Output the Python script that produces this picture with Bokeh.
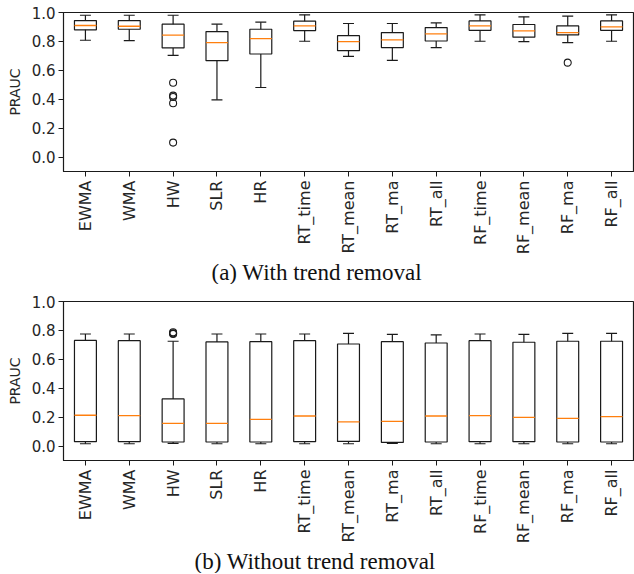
import numpy as np
from bokeh.plotting import figure
from bokeh.layouts import column
from bokeh.models import Range1d, FixedTicker, Title
from bokeh.embed import file_html
from bokeh.resources import INLINE

categories = ["EWMA", "WMA", "HW", "SLR", "HR", "RT_time", "RT_mean", "RT_ma",
              "RT_all", "RF_time", "RF_mean", "RF_ma", "RF_all"]

# (a) With trend removal
whislo_a = [0.808, 0.806, 0.704, 0.396, 0.481, 0.801, 0.697, 0.669, 0.757, 0.801, 0.799, 0.792, 0.801]
q1_a     = [0.880, 0.884, 0.755, 0.667, 0.713, 0.875, 0.736, 0.757, 0.803, 0.877, 0.829, 0.845, 0.877]
med_a    = [0.910, 0.905, 0.843, 0.792, 0.819, 0.907, 0.799, 0.810, 0.852, 0.907, 0.873, 0.861, 0.900]
q3_a     = [0.944, 0.944, 0.919, 0.868, 0.884, 0.940, 0.840, 0.861, 0.896, 0.942, 0.917, 0.907, 0.942]
whishi_a = [0.981, 0.981, 0.981, 0.919, 0.933, 0.984, 0.924, 0.924, 0.928, 0.984, 0.970, 0.975, 0.984]
outlier_cat_a = ["HW", "HW", "HW", "HW", "HW", "RF_ma"]
outlier_val_a = [0.514, 0.425, 0.415, 0.372, 0.100, 0.653]

# (b) Without trend removal
whislo_b = [0.016, 0.016, 0.019, 0.016, 0.016, 0.016, 0.016, 0.019, 0.016, 0.016, 0.016, 0.016, 0.016]
q1_b     = [0.030, 0.030, 0.028, 0.028, 0.028, 0.030, 0.032, 0.025, 0.028, 0.030, 0.030, 0.028, 0.028]
med_b    = [0.213, 0.211, 0.157, 0.157, 0.185, 0.208, 0.167, 0.171, 0.208, 0.211, 0.199, 0.192, 0.204]
q3_b     = [0.731, 0.729, 0.326, 0.720, 0.722, 0.729, 0.706, 0.722, 0.713, 0.729, 0.718, 0.725, 0.725]
whishi_b = [0.775, 0.775, 0.725, 0.775, 0.775, 0.775, 0.780, 0.773, 0.769, 0.775, 0.773, 0.780, 0.780]
outlier_cat_b = ["HW", "HW", "HW"]
outlier_val_b = [0.787, 0.780, 0.776]

y_ticks = [0.0, 0.2, 0.4, 0.6, 0.8, 1.0]

TEXT = "#262626"
LINE = "#1a1a1a"
MED = "#ff7f0e"


def make_panel(caption, cap_offset, cap_standoff, lo, q1, med, q3, hi, ocat, oval,
               top_border, frame_h):
    pos = np.arange(1, len(categories) + 1, dtype=float)
    p = figure(frame_width=570, frame_height=frame_h, output_backend="svg",
               toolbar_location=None, x_range=Range1d(0.5, len(categories) + 0.5),
               y_range=Range1d(-0.1, 1.0), min_border_left=63, min_border_right=1,
               min_border_top=top_border, min_border_bottom=0)
    p.grid.visible = False
    p.outline_line_color = LINE
    p.outline_line_width = 1.2
    p.background_fill_color = "white"
    p.border_fill_color = "white"

    # boxes
    p.quad(left=pos - 0.25, right=pos + 0.25, bottom=q1, top=q3,
           fill_color="white", line_color=LINE, line_width=1.2)
    # whiskers
    p.segment(x0=pos, x1=pos, y0=q3, y1=hi, line_color=LINE, line_width=1.2)
    p.segment(x0=pos, x1=pos, y0=lo, y1=q1, line_color=LINE, line_width=1.2)
    # caps
    p.segment(x0=pos - 0.125, x1=pos + 0.125, y0=hi, y1=hi, line_color=LINE, line_width=1.2)
    p.segment(x0=pos - 0.125, x1=pos + 0.125, y0=lo, y1=lo, line_color=LINE, line_width=1.2)
    # medians
    p.segment(x0=pos - 0.25, x1=pos + 0.25, y0=med, y1=med, line_color=MED, line_width=1.3)
    # outliers
    ox = [categories.index(c) + 1.0 for c in ocat]
    p.scatter(ox, oval, marker="circle", size=7, fill_color=None, line_color=LINE, line_width=1.1)

    xa = p.xaxis[0]
    xa.ticker = FixedTicker(ticks=list(pos))
    xa.major_label_overrides = {float(i + 1): c for i, c in enumerate(categories)}
    xa.major_label_orientation = np.pi / 2
    xa.major_label_text_font = "DejaVu Sans"
    xa.major_label_text_font_size = "16px"
    xa.major_label_text_color = TEXT
    xa.major_label_standoff = 4
    xa.major_tick_out = 5
    xa.major_tick_in = 0
    xa.minor_tick_out = 0
    xa.minor_tick_in = 0
    xa.axis_line_color = LINE
    xa.major_tick_line_color = LINE

    ya = p.yaxis[0]
    ya.ticker = FixedTicker(ticks=y_ticks)
    ya.major_label_overrides = {t: f"{t:.1f}" for t in y_ticks}
    ya.major_label_text_font = "DejaVu Sans"
    ya.major_label_text_font_size = "15px"
    ya.major_label_text_color = TEXT
    ya.major_label_standoff = 3
    ya.major_tick_out = 5
    ya.major_tick_in = 0
    ya.minor_tick_out = 0
    ya.minor_tick_in = 0
    ya.axis_line_color = LINE
    ya.major_tick_line_color = LINE
    ya.axis_label = "PRAUC"
    ya.axis_label_text_font = "DejaVu Sans"
    ya.axis_label_text_font_size = "14px"
    ya.axis_label_text_font_style = "normal"
    ya.axis_label_text_color = TEXT
    ya.axis_label_standoff = 6

    t = Title(text=caption, align="left", offset=cap_offset, text_font="Liberation Serif",
              text_font_size="23px", text_font_style="normal", text_color="#111111",
              standoff=cap_standoff)
    p.add_layout(t, "below")
    return p


p1 = make_panel("(a) With trend removal", 148, 0, whislo_a, q1_a, med_a, q3_a, whishi_a,
                outlier_cat_a, outlier_val_a, 12, 159)
p2 = make_panel("(b) Without trend removal", 131, 0, whislo_b, q1_b, med_b, q3_b, whishi_b,
                outlier_cat_b, outlier_val_b, 17, 159)

layout = column(p1, p2, spacing=0)
open("out.html", "w").write(file_html(layout, INLINE))
